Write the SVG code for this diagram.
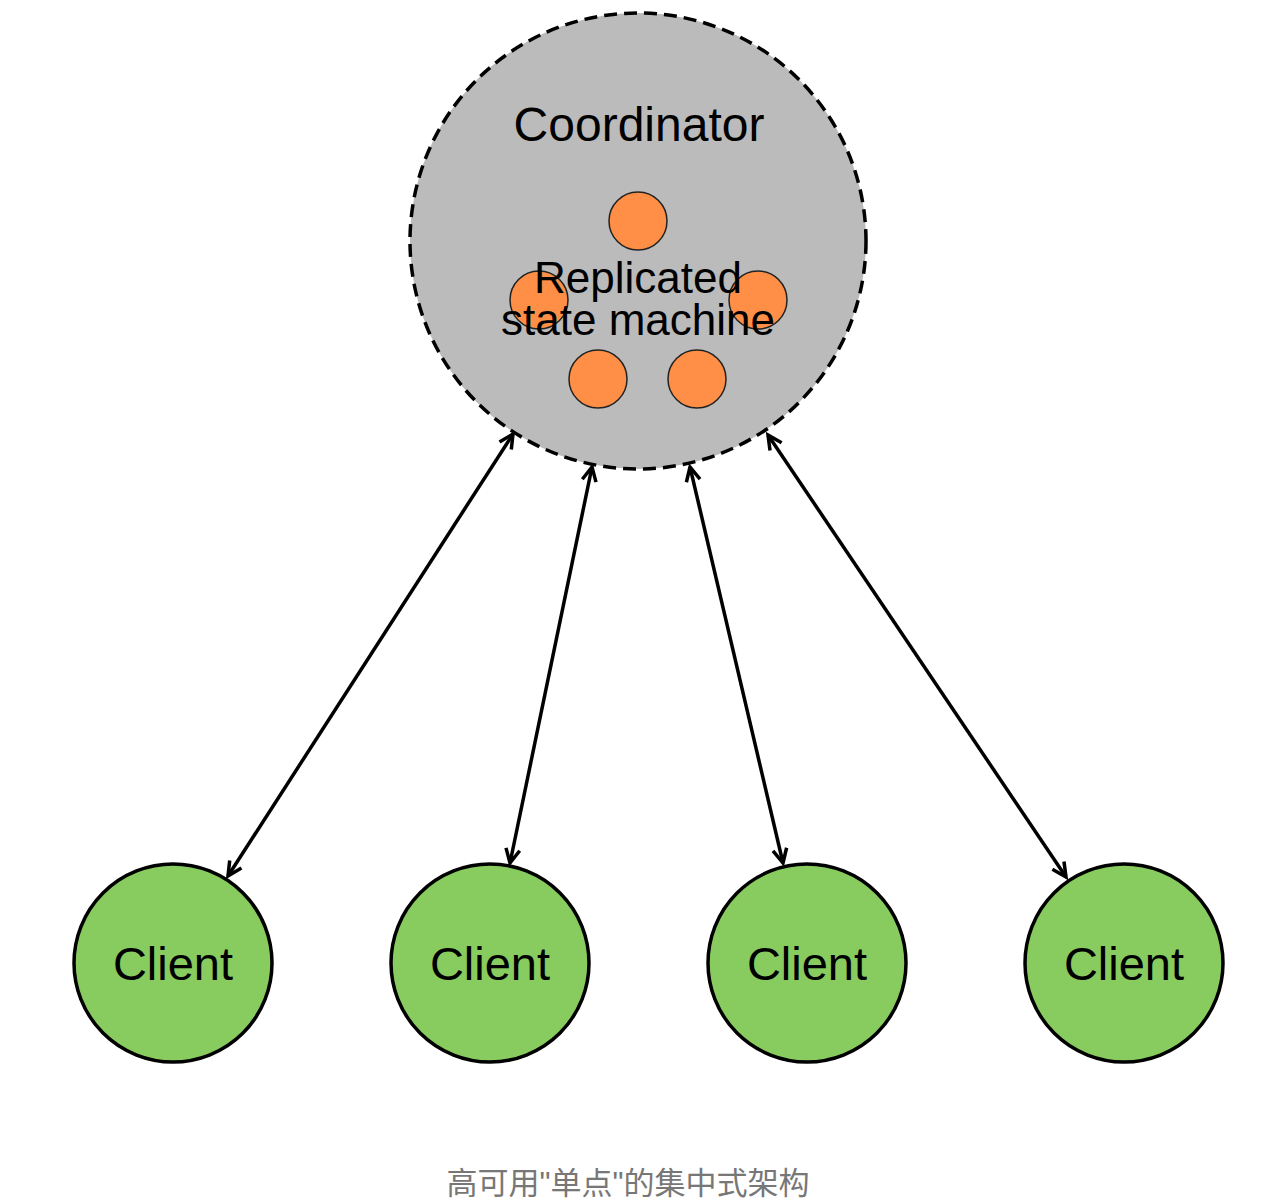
<svg xmlns="http://www.w3.org/2000/svg" width="1268" height="1202" viewBox="0 0 1268 1202">
  <style>
    .lbl { font-family: "Liberation Sans", Arial, sans-serif; fill: #000; text-anchor: middle; }
    .client { fill: #88CC5F; stroke: #000; stroke-width: 3.5; }
    .replica { fill: #FF8F46; stroke: #222; stroke-width: 1.5; }
    .conn { stroke: #000; stroke-width: 3.5; fill: none; marker-start: url(#arr); marker-end: url(#arr); }
    .caption { font-family: "Liberation Sans", "Noto Sans CJK SC", sans-serif; fill: #777; text-anchor: middle; font-size: 31px; }
  </style>
  <defs>
    <marker id="arr" viewBox="0 0 20 20" refX="17" refY="10" markerWidth="20" markerHeight="20" markerUnits="userSpaceOnUse" orient="auto-start-reverse">
      <path d="M3,3 L17,10 L3,17" fill="none" stroke="#000" stroke-width="3.5" stroke-linejoin="miter"/>
    </marker>
  </defs>
  <rect width="1268" height="1202" fill="#fff"/>

  <g id="coordinator">
    <circle cx="638" cy="241" r="228" fill="#BBBBBB" stroke="#000" stroke-width="3.5" stroke-dasharray="13 7"/>
    <text class="lbl" x="639" y="141" font-size="48">Coordinator</text>
  </g>

  <g id="replicas">
    <circle class="replica" cx="638" cy="221" r="29"/>
    <circle class="replica" cx="539" cy="300" r="29"/>
    <circle class="replica" cx="758" cy="300" r="29"/>
    <circle class="replica" cx="598" cy="379" r="29"/>
    <circle class="replica" cx="697" cy="379" r="29"/>
    <text class="lbl" font-size="44"><tspan x="638" y="293">Replicated</tspan><tspan x="638" y="335">state machine</tspan></text>
  </g>

  <g id="connectors">
    <line class="conn" x1="513" y1="434" x2="228" y2="876"/>
    <line class="conn" x1="592" y1="467" x2="510" y2="863"/>
    <line class="conn" x1="690" y1="467" x2="783" y2="863"/>
    <line class="conn" x1="768" y1="435" x2="1066" y2="877"/>
  </g>

  <g id="client1">
    <circle class="client" cx="173" cy="963" r="99"/>
    <text class="lbl" x="173" y="980" font-size="47">Client</text>
  </g>
  <g id="client2">
    <circle class="client" cx="490" cy="963" r="99"/>
    <text class="lbl" x="490" y="980" font-size="47">Client</text>
  </g>
  <g id="client3">
    <circle class="client" cx="807" cy="963" r="99"/>
    <text class="lbl" x="807" y="980" font-size="47">Client</text>
  </g>
  <g id="client4">
    <circle class="client" cx="1124" cy="963" r="99"/>
    <text class="lbl" x="1124" y="980" font-size="47">Client</text>
  </g>

  <g id="caption">
    <text class="caption" x="628" y="1194">高可用"单点"的集中式架构</text>
  </g>
</svg>
